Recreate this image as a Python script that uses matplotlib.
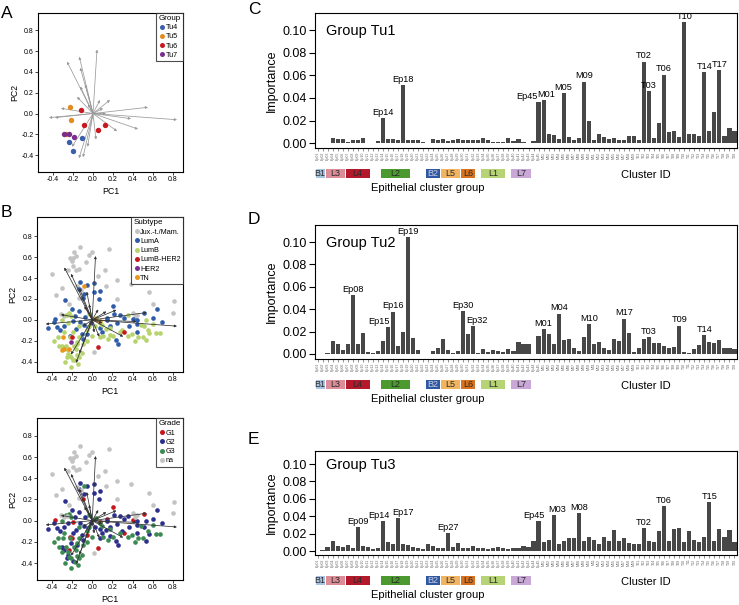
import numpy as np
import matplotlib
matplotlib.use('Agg')
import matplotlib.pyplot as plt
from matplotlib.patches import Rectangle
from matplotlib.lines import Line2D
from matplotlib.transforms import blended_transform_factory

plt.rcParams['font.family'] = ['Liberation Sans', 'DejaVu Sans']

# ---- panel A: tumour groups ----
a_x = [-0.11, -0.243, -0.20, -0.227, -0.217, -0.27, -0.12, -0.094, 0.046, 0.123, -0.287, -0.243, -0.193]
a_y = [-0.234, -0.27, -0.36, 0.063, -0.065, -0.196, 0.029, -0.115, -0.161, -0.106, -0.20, -0.20, -0.224]
a_grp = ['Tu4', 'Tu4', 'Tu4', 'Tu5', 'Tu5', 'Tu5', 'Tu6', 'Tu6', 'Tu6', 'Tu6', 'Tu7', 'Tu7', 'Tu7']
a_load_x = [0.04, -0.26, -0.137, -0.127, -0.077, -0.16, -0.32, -0.44, -0.38, 0.55, 0.84, 0.45, 0.38, 0.24,
            0.13, -0.14, -0.10, -0.054, -0.21, -0.127, 0.07, 0.17, 0.03, -0.05, 0.10]
a_load_y = [0.615, 0.50, 0.546, 0.44, 0.28, 0.16, 0.05, -0.04, -0.04, 0.06, -0.06, -0.15, -0.05, -0.17,
            0.0, -0.43, -0.42, -0.32, -0.32, 0.26, 0.13, 0.13, -0.25, 0.09, 0.05]

# ---- panel B: samples (same PCA, coloured by subtype and by grade) ----
na_x = [-0.12, -0.217, -0.187, -0.16, -0.20, -0.034, 0.0, 0.166, -0.40, -0.187, -0.16, -0.134, -0.237, 0.126,
        -0.354, -0.227, -0.31, 0.133, 0.246, 0.38, 0.566, 0.806, 0.80, 0.406, 0.446, 0.423, 0.02, -0.134, -0.11,
        -0.154, -0.254, -0.277, -0.18, -0.06, 0.06, -0.30, 0.25, 0.60]
na_y = [0.70, 0.588, 0.591, 0.61, 0.566, 0.617, 0.648, 0.673, 0.44, 0.51, 0.478, 0.485, 0.472, 0.472,
        0.242, 0.148, 0.054, 0.327, 0.378, 0.346, 0.264, 0.177, 0.07, 0.07, 0.051, 0.032, -0.308, 0.211, 0.29,
        0.321, 0.044, 0.038, 0.65, 0.55, 0.42, 0.30, 0.20, 0.15]
g1_x = [0.206, 0.15, 0.073, -0.094, -0.194, -0.20, -0.294, -0.217, -0.367, 0.513, 0.40, 0.32, 0.06, -0.054, -0.227]
g1_y = [0.132, 0.016, -0.009, 0.205, -0.009, -0.166, -0.26, -0.15, 0.007, 0.063, 0.007, -0.113, -0.26, -0.135, -0.276]
g1_sub = ['LumA', 'LumA', 'TN', 'LumA', 'LumA', 'LumB-HER2', 'LumB', 'LumA', 'LumA', 'LumA', 'LumA', 'LumB-HER2',
          'LumB-HER2', 'LumA', 'TN']
g2_x = [-0.134, 0.02, 0.066, -0.077, -0.267, -0.344, -0.434, -0.277, -0.244, -0.174, -0.127, -0.067, -0.01, -0.044,
        -0.16, -0.10, 0.023, 0.073, 0.133, 0.173, 0.213, 0.28, 0.356, 0.446, 0.533, 0.44, 0.513, 0.446, 0.566, 0.64,
        0.696, 0.26, 0.173, 0.24, 0.533, 0.073, -0.154, -0.21, -0.30, -0.277, -0.244, -0.094, -0.194,
        -0.05, -0.12, 0.02, 0.08, -0.20, 0.15, 0.25, 0.32, 0.36, 0.60, -0.08, -0.12, 0.10, -0.32, -0.38,
        -0.25, -0.19, 0.30]
g2_y = [0.296, 0.264, 0.202, 0.249, 0.186, -0.072, -0.075, -0.062, -0.025, 0.038, 0.085, 0.032, -0.025, -0.072,
        -0.088, -0.135, -0.056, -0.081, -0.088, -0.056, 0.054, 0.044, 0.044, 0.0, 0.0, -0.041, -0.056, -0.113, -0.125,
        0.101, -0.019, -0.232, -0.144, -0.188, -0.188, -0.166, -0.229, -0.213, -0.245, -0.276, -0.323, -0.182, -0.119,
        0.33, 0.36, 0.35, 0.28, 0.10, 0.0, -0.03, 0.02, -0.06, 0.02, -0.05, -0.02, -0.12, -0.10, -0.02,
        -0.35, -0.38, -0.10]
g2_sub = ['LumA', 'LumA', 'LumA', 'LumA', 'LumA', 'LumA', 'LumA', 'LumA', 'LumB', 'LumA', 'LumA', 'LumA', 'LumA', 'LumA',
          'LumA', 'LumA', 'LumB', 'LumA', 'LumB', 'LumA', 'LumA', 'LumA', 'LumB', 'LumA', 'LumB', 'LumA', 'LumB', 'LumA',
          'LumB', 'LumA', 'LumA', 'LumA', 'LumB', 'LumA', 'LumB', 'LumB', 'LumB', 'HER2', 'LumB', 'TN', 'LumB', 'LumA',
          'LumB',
          'LumA', 'LumA', 'LumA', 'LumA', 'LumA', 'LumA', 'LumA', 'LumA', 'LumA', 'LumA', 'LumA', 'LumA', 'LumA',
          'LumA', 'LumA', 'LumB', 'LumB', 'LumB']
g3_x = [-0.077, -0.234, -0.26, -0.21, -0.027, 0.023, -0.334, -0.377, -0.294, -0.26, -0.30, -0.244, -0.227, -0.267,
        -0.21, -0.154, -0.127, -0.167, -0.144, -0.21, -0.127, -0.054, -0.094, 0.156, 0.106, 0.273, 0.39, 0.456, 0.50,
        0.60, 0.633, 0.673, -0.027, 0.04, 0.073, -0.127, -0.154, 0.206,
        -0.28, -0.22, -0.18, -0.33, -0.16, -0.05, 0.0, 0.18, 0.35, 0.42, 0.55, 0.48, -0.30, -0.10, 0.10]
g3_y = [0.327, 0.063, 0.051, 0.038, 0.054, 0.013, -0.16, -0.198, -0.166, -0.245, -0.292, -0.292, -0.339, -0.402,
        -0.355, -0.333, -0.355, -0.386, -0.418, -0.449, -0.166, -0.198, -0.229, -0.182, -0.15, -0.119, -0.135, -0.166,
        -0.166, -0.041, -0.129, -0.122, -0.056, 0.022, -0.025, -0.056, -0.213, -0.15,
        -0.12, -0.16, -0.25, -0.25, -0.28, -0.10, -0.15, -0.08, -0.15, -0.20, -0.10, -0.05, 0.0, -0.32, -0.05]
g3_sub = ['TN', 'LumB', 'LumB', 'LumB', 'LumB', 'TN', 'LumB', 'LumB', 'TN', 'LumB', 'TN', 'LumB', 'LumB', 'LumB',
          'LumB', 'LumB', 'LumB', 'LumB', 'LumB', 'LumB', 'LumB', 'LumB', 'LumB', 'LumB', 'LumB', 'LumB', 'LumB', 'LumB',
          'LumB', 'LumB', 'LumB', 'LumB', 'LumB', 'LumB', 'LumB', 'LumB', 'LumB', 'LumB',
          'LumB', 'LumB', 'LumB', 'LumB', 'LumB', 'LumB', 'LumB', 'LumB', 'LumB', 'LumB', 'LumB', 'LumB', 'LumB',
          'LumB', 'LumB']
b_load_x = [0.033, -0.277, -0.21, -0.127, -0.054, -0.077, -0.31, -0.46, 0.84, 0.54, 0.44, 0.24, 0.14, 0.307,
            -0.16, -0.21, -0.127, 0.07, 0.02, -0.03, 0.06, -0.09, 0.10]
b_load_y = [0.61, 0.50, 0.44, 0.30, 0.27, 0.13, 0.05, -0.04, -0.06, 0.07, -0.016, 0.095, 0.08, -0.16,
            -0.41, -0.33, -0.32, -0.16, -0.12, 0.15, 0.10, -0.06, -0.03]

# ---- panels C-E: cluster importance ----
n_ep, n_m, n_t = 45, 19, 20
cluster_ids = ([f'Ep{i:02d}' for i in range(1, n_ep + 1)] + [f'M{i:02d}' for i in range(1, n_m + 1)]
               + [f'T{i:02d}' for i in range(1, n_t + 1)])
tu1_imp = [0.0005, 0.0005, 0.0005, 0.005, 0.0035, 0.0035, 0.001, 0.003, 0.003, 0.0045, 0.0005, 0.0005, 0.002, 0.022,
           0.004, 0.004, 0.0025, 0.0515, 0.003, 0.0025, 0.003, 0.001, 0.0, 0.004, 0.0025, 0.004, 0.002, 0.003, 0.004,
           0.003, 0.003, 0.003, 0.0025, 0.0045, 0.003, 0.001, 0.001, 0.001, 0.0045, 0.002, 0.0035, 0.0012, 0.0, 0.002,
           0.0362,
           0.038, 0.0077, 0.0074, 0.0035, 0.0444, 0.0056, 0.0032, 0.005, 0.0544, 0.0194, 0.003, 0.008, 0.0053, 0.0038,
           0.0044, 0.0024, 0.003, 0.0065, 0.006,
           0.0027, 0.072, 0.046, 0.0044, 0.0177, 0.0606, 0.0097, 0.0112, 0.0053, 0.107, 0.008, 0.0085, 0.006, 0.0627,
           0.0106, 0.0277, 0.0647, 0.0065, 0.0138, 0.0112]
tu2_imp = [0.0003, 0.0003, 0.001, 0.0113, 0.0086, 0.0033, 0.0092, 0.0527, 0.0092, 0.019, 0.002, 0.0012, 0.0027, 0.012,
           0.0238, 0.0378, 0.0068, 0.020, 0.1045, 0.0143, 0.0036, 0.0, 0.0, 0.0024, 0.005, 0.013, 0.0039, 0.0012,
           0.0027, 0.0384, 0.0179, 0.025, 0.0012, 0.0048, 0.0015, 0.0036, 0.0024, 0.0015, 0.0042, 0.0027, 0.0104,
           0.0086, 0.0092, 0.0, 0.0164,
           0.0223, 0.0176, 0.0089, 0.036, 0.0128, 0.0134, 0.005, 0.003, 0.0152, 0.0268, 0.0092, 0.0104, 0.0054, 0.0033,
           0.013, 0.0113, 0.0315, 0.0185,
           0.0015, 0.0057, 0.0134, 0.0152, 0.0101, 0.0095, 0.0068, 0.0054, 0.0063, 0.0253, 0.0018, 0.001, 0.0048,
           0.008, 0.017, 0.0104, 0.0095, 0.0125, 0.005, 0.005, 0.004]
tu3_imp = [0.0, 0.001, 0.005, 0.012, 0.006, 0.005, 0.007, 0.004, 0.028, 0.006, 0.005, 0.002, 0.004, 0.034, 0.011,
           0.008, 0.038, 0.008, 0.007, 0.005, 0.004, 0.002, 0.008, 0.006, 0.004, 0.003, 0.021, 0.005, 0.009, 0.003,
           0.004, 0.006, 0.003, 0.004, 0.002, 0.004, 0.005, 0.003, 0.002, 0.003, 0.004, 0.006, 0.005, 0.012, 0.035,
           0.011, 0.013, 0.041, 0.008, 0.012, 0.015, 0.015, 0.044, 0.012, 0.016, 0.013, 0.008, 0.016, 0.012, 0.024,
           0.012, 0.015, 0.009, 0.008,
           0.008, 0.026, 0.012, 0.011, 0.023, 0.052, 0.012, 0.025, 0.026, 0.010, 0.023, 0.013, 0.010, 0.016, 0.056,
           0.012, 0.025, 0.016, 0.024, 0.010]
tu1_labels = ['Ep14', 'Ep18', 'Ep45', 'M01', 'M05', 'M09', 'T02', 'T03', 'T06', 'T10', 'T14', 'T17']
tu2_labels = ['Ep08', 'Ep15', 'Ep16', 'Ep19', 'Ep30', 'Ep32', 'M01', 'M04', 'M10', 'M17', 'T03', 'T09', 'T14']
tu3_labels = ['Ep09', 'Ep14', 'Ep17', 'Ep27', 'Ep45', 'M03', 'M08', 'T02', 'T06', 'T15']

# epithelial cluster groups: name, first cluster, last cluster
ep_groups = [('B1', 'Ep01', 'Ep02'), ('L3', 'Ep03', 'Ep06'), ('L4', 'Ep07', 'Ep11'), ('L2', 'Ep14', 'Ep19'),
             ('B2', 'Ep23', 'Ep25'), ('L5', 'Ep26', 'Ep29'), ('L6', 'Ep30', 'Ep32'), ('L1', 'Ep34', 'Ep38'),
             ('L7', 'Ep40', 'Ep43')]
group_colors = {'B1': '#a9c4e2', 'L3': '#dc8d97', 'L4': '#b3192b', 'L2': '#4c9a2f', 'B2': '#2f58a3',
                'L5': '#f1b562', 'L6': '#d8721e', 'L1': '#b6d476', 'L7': '#c9a8d8'}

tu_colors = {'Tu4': '#3a5fab', 'Tu5': '#e28c1f', 'Tu6': '#c8171e', 'Tu7': '#7c2c8f'}
sub_colors = {'Jux.-t./Mam.': '#c3c3c3', 'LumA': '#2f5ca9', 'LumB': '#b7d46c', 'LumB-HER2': '#c8171e',
              'HER2': '#7c2c8f', 'TN': '#e8961d'}
grade_colors = {'G1': '#c4161c', 'G2': '#2c2f8e', 'G3': '#3c8a52', 'na': '#c3c3c3'}

W, H = 739, 605
fig = plt.figure(figsize=(W / 100, H / 100), dpi=100)


def add_axes_px(l, t, r, b):
    return fig.add_axes([l / W, 1 - b / H, (r - l) / W, (b - t) / H])


def pca_panel(ax, xs, ys, cats, colors, lx, ly, acol, title, ylim, arrows_on_top, size, lspace):
    ax.set_xlim(-0.55, 0.9)
    ax.set_ylim(*ylim)
    az = 4 if arrows_on_top else 1
    for x, y in zip(lx, ly):
        ax.annotate('', xy=(x, y), xytext=(0, 0), zorder=az,
                    arrowprops=dict(arrowstyle='-|>', color=acol, lw=0.55, mutation_scale=3.5,
                                    shrinkA=0, shrinkB=0))
    cats = np.array(cats)
    for c, col in colors.items():
        m = cats == c
        ax.scatter(np.array(xs)[m], np.array(ys)[m], s=size, color=col, linewidths=0, zorder=3)
    ax.set_xticks([-0.4, -0.2, 0.0, 0.2, 0.4, 0.6, 0.8])
    ax.set_yticks([-0.4, -0.2, 0.0, 0.2, 0.4, 0.6, 0.8])
    ax.xaxis.set_major_formatter(matplotlib.ticker.FormatStrFormatter('%.1f'))
    ax.yaxis.set_major_formatter(matplotlib.ticker.FormatStrFormatter('%.1f'))
    ax.tick_params(labelsize=5, length=2, width=0.6, pad=1, color='#222')
    for s in ax.spines.values():
        s.set_linewidth(0.8)
    ax.set_xlabel('PC1', fontsize=6.3, labelpad=3)
    ax.set_ylabel('PC2', fontsize=6.3, labelpad=2)
    handles = [Line2D([], [], marker='o', ls='', color=col, markersize=3.6, markeredgewidth=0)
               for col in colors.values()]
    leg = ax.legend(handles, list(colors.keys()), title=title, loc='upper right', fontsize=5.2,
                    title_fontsize=5.8, frameon=True, fancybox=False, borderaxespad=0, handletextpad=0.05,
                    labelspacing=lspace, borderpad=0.3, handlelength=0.9, alignment='left')
    leg.get_frame().set_edgecolor('#222')
    leg.get_frame().set_linewidth(0.8)


def bar_panel(ax, vals, labels, title, shift):
    n = len(vals)
    x = np.arange(n)
    ax.bar(x, vals, width=0.82, color='#474747', zorder=2)
    ax.set_xlim(-0.5, n - 0.5)
    ax.set_ylim(-0.0045, 0.1153)
    ax.set_yticks([0, 0.02, 0.04, 0.06, 0.08, 0.10])
    ax.yaxis.set_major_formatter(matplotlib.ticker.FormatStrFormatter('%.2f'))
    ax.set_xticks(x)
    ax.set_xticklabels(cluster_ids, rotation=90, fontsize=2.6, color='#666')
    ax.tick_params(axis='x', length=2, width=0.4, pad=0.6, color='#444')
    ax.tick_params(axis='y', labelsize=9, length=4, width=0.8, pad=2)
    for s in ax.spines.values():
        s.set_linewidth(0.8)
    ax.set_ylabel('Importance', fontsize=9, labelpad=3)
    ax.text(0.025, 0.865, title, transform=ax.transAxes, fontsize=10.5, va='center')
    for lab in labels:
        i = cluster_ids.index(lab)
        ax.text(i + shift.get(lab, 0), vals[i] + 0.0012, lab, ha='center', va='bottom', fontsize=6.6)
    hpx = ax.get_position().height * H
    tr = blended_transform_factory(ax.transData, ax.transAxes)
    y0, y1 = -20.5 / hpx, -30 / hpx
    for name, first, last in ep_groups:
        a, b = cluster_ids.index(first), cluster_ids.index(last)
        ax.add_patch(Rectangle((a - 0.4, y1), b - a + 0.8, y0 - y1, transform=tr, clip_on=False,
                               facecolor=group_colors[name], edgecolor='none'))
        tc = '#c8cde0' if name == 'B2' else '#2a2a2a'
        ax.text((a + b) / 2, (y0 + y1) / 2, name, transform=tr, ha='center', va='center', fontsize=6.5,
                color=tc)
    ax.text(22, -40 / hpx, 'Epithelial cluster group', transform=tr, ha='center', va='center', fontsize=8)
    ax.text(65.3, -27 / hpx, 'Cluster ID', transform=tr, ha='center', va='center', fontsize=8)


# panel A
ax_a = add_axes_px(38, 12.7, 183, 171.7)
pca_panel(ax_a, a_x, a_y, a_grp, tu_colors, a_load_x, a_load_y, '#9a9a9a', 'Group', (-0.56, 0.97), False,
          15, 0.3)

# panel B
b_x = na_x + g1_x + g2_x + g3_x
b_y = na_y + g1_y + g2_y + g3_y
b_sub = ['Jux.-t./Mam.'] * len(na_x) + g1_sub + g2_sub + g3_sub
b_grade = ['na'] * len(na_x) + ['G1'] * len(g1_x) + ['G2'] * len(g2_x) + ['G3'] * len(g3_x)
ax_b1 = add_axes_px(36.7, 217.3, 183, 371.7)
pca_panel(ax_b1, b_x, b_y, b_sub, sub_colors, b_load_x, b_load_y, '#333333', 'Subtype', (-0.495, 0.98), True,
          11, 0.3)
ax_b2 = add_axes_px(36.7, 418.3, 183, 580)
pca_panel(ax_b2, b_x, b_y, b_grade, grade_colors, b_load_x, b_load_y, '#333333', 'Grade', (-0.56, 0.966), True,
          11, 0.3)

# panels C-E
ax_c = add_axes_px(315, 12.7, 737, 148.3)
bar_panel(ax_c, tu1_imp, tu1_labels, 'Group Tu1', {'Ep45': -2.3, 'M01': 0.6})
ax_d = add_axes_px(315, 224.9, 737, 359)
bar_panel(ax_d, tu2_imp, tu2_labels, 'Group Tu2', {'Ep15': -1.8, 'Ep32': 0.8})
ax_e = add_axes_px(315, 450.7, 737, 555)
bar_panel(ax_e, tu3_imp, tu3_labels, 'Group Tu3', {'Ep14': -0.8, 'Ep17': 1.0, 'Ep45': -1.0, 'M03': 0.7})

for letter, (px, py) in {'A': (1, 14), 'B': (1, 212), 'C': (248, 10), 'D': (248, 220), 'E': (248, 440)}.items():
    fig.text(px / W, 1 - py / H, letter, fontsize=12.5, ha='left', va='center')

fig.savefig('out.png', dpi=100)
